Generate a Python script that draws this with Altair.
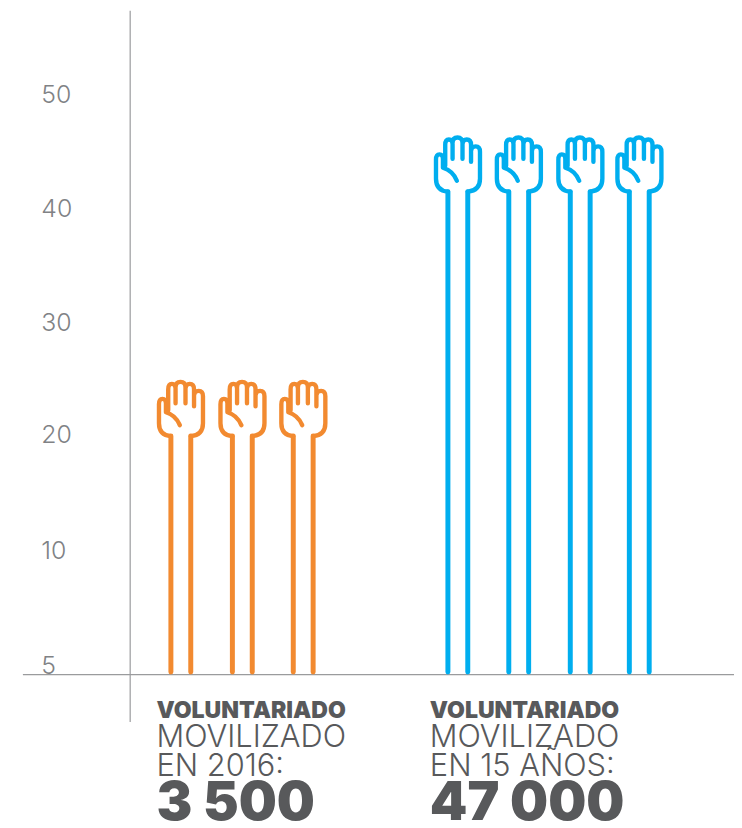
import altair as alt
import pandas as pd

# hands: slot along the x scale, and the level of the wrist on the y scale
orange_slots = [1.0, 2.01, 3.01]
orange_wrist = [20.0, 20.0, 20.0]
blue_slots = [5.55, 6.55, 7.56, 8.53]
blue_wrist = [41.55, 41.55, 41.55, 41.55]

# tick positions (slightly uneven in the original)
tick_values = [-0.2, 9.94, 20.15, 30.04, 40.04, 50.09]

axis_slot = 0.168
base_level = -1.03
arm_foot = -0.8

caption_slots = [0.6, 5.09]
caption_line1 = ["VOLUNTARIADO", "VOLUNTARIADO"]
caption_line2 = ["MOVILIZADO", "MOVILIZADO"]
caption_line3 = ["EN 2016:", "EN 15 AÑOS:"]
caption_line4 = ["3 500", "47 000"]

ORANGE = "#F28A30"
BLUE = "#00AEEF"
LINE = "#9A9B9D"
DARK = "#58595B"
LIGHT = "#808285"
FONT = "Inter"

HAND = (
    "M-10,0 Q-22,-1 -22,-13 L-22,-32 Q-22,-37.5 -18.5,-37.5 Q-15,-37.5 -15,-33 L-15,-24 "
    "Q-5,-21 -1,-11 "
    "M-12.7,-26 L-12.7,-47 Q-12.7,-52.5 -9,-52.5 Q-5.3,-52.5 -5.3,-48 L-5.3,-33 "
    "M-5.3,-49 Q-5.3,-54.5 -0.3,-54.5 Q4.7,-54.5 4.7,-49 L4.7,-33 "
    "M4.7,-48 Q5,-52.5 9,-52.5 Q13.3,-52.5 13.3,-47 L13.3,-30 "
    "M13.3,-41 Q13.5,-45.5 18,-45.5 Q22.3,-45.5 22.3,-40 L22.3,-13 Q22.3,-1 10,0"
)

hands = pd.DataFrame({
    "slot": orange_slots + blue_slots,
    "wrist": orange_wrist + blue_wrist,
    "foot": [arm_foot] * 7,
    "group": ["2016"] * 3 + ["15 años"] * 4,
})

x_scale = alt.Scale(domain=[-1.594, 10.086], nice=False, zero=False)
y_scale = alt.Scale(domain=[-5.2, 57.49], nice=False, zero=False)
color = alt.Color("group:N", scale=alt.Scale(domain=["2016", "15 años"], range=[ORANGE, BLUE]), legend=None)

x_enc = alt.X("slot:Q", scale=x_scale, axis=None)
y_axis = alt.Axis(
    values=tick_values, title=None, domain=False, ticks=False, grid=False,
    labelAlign="left", labelBaseline="middle", labelPadding=-18,
    labelFontSize=25, labelFont=FONT, labelFontWeight=300, labelColor=LIGHT,
    labelExpr="datum.value < 1 ? '5' : format(round(datum.value), 'd')", labelOverlap=False, labelFlush=False,
)

h_rule = alt.Chart(pd.DataFrame({"v": [base_level]})).mark_rule(color=LINE, strokeWidth=1.2).encode(
    y=alt.Y("v:Q", scale=y_scale, axis=y_axis)
)
v_rule = alt.Chart(pd.DataFrame({"slot": [axis_slot]})).mark_rule(color=LINE, strokeWidth=1.2).encode(x=x_enc)

def arm(off):
    return alt.Chart(hands).mark_rule(strokeWidth=5, strokeCap="round", xOffset=off).encode(
        x=x_enc, y=alt.Y("wrist:Q", scale=y_scale), y2="foot:Q", color=color
    )

hand = alt.Chart(hands).mark_point(
    shape=HAND, size=4, filled=False, strokeWidth=4.4, opacity=1, strokeCap="round", strokeJoin="round"
).encode(
    x=x_enc, y=alt.Y("wrist:Q", scale=y_scale),
    stroke=alt.Stroke("group:N", scale=alt.Scale(domain=["2016", "15 años"], range=[ORANGE, BLUE]), legend=None),
)

def caption(texts, y_px, size, weight):
    df = pd.DataFrame({"slot": caption_slots, "t": texts})
    return alt.Chart(df).mark_text(
        align="left", baseline="alphabetic", font=FONT, fontSize=size, fontWeight=weight, color=DARK
    ).encode(x=x_enc, y=alt.value(y_px), text="t:N")

chart = alt.layer(
    h_rule, v_rule, arm(-10), arm(10), hand,
    caption(caption_line1, 712, 23.2, 900),
    caption(caption_line2, 741, 31, 300),
    caption(caption_line3, 770, 31, 300),
    caption(caption_line4, 815, 54, 900),
).properties(
    width=716, height=716,
    autosize=alt.AutoSizeParams(type="none"),
    padding={"left": 15, "top": 0, "right": 0, "bottom": 104},
).configure_view(stroke=None)

chart.save("out.html", embed_options={"renderer": "svg", "actions": False})
